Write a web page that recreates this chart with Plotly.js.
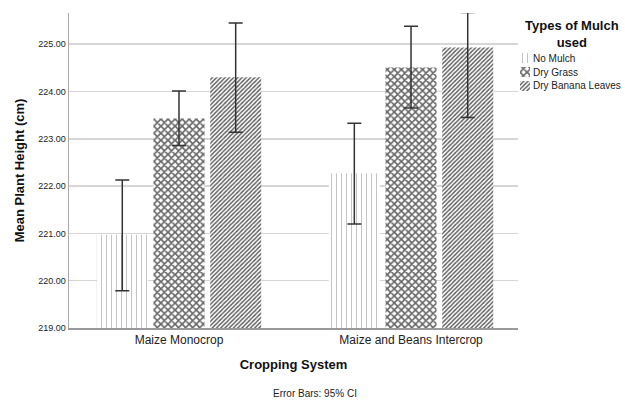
<!DOCTYPE html>
<html>
<head>
<meta charset="utf-8">
<script src="https://cdn.plot.ly/plotly-3.0.1.min.js"></script>
<style>html,body{margin:0;padding:0;background:#fff;}#chart{width:625px;height:401px;}</style>
</head>
<body>
<div id="chart"></div>
<script>
var categories = ["Maize Monocrop", "Maize and Beans Intercrop"];
var seriesNames = ["No Mulch", "Dry Grass", "Dry Banana Leaves"];
var noMulch = [220.97, 222.27];
var noMulchErrPlus = [1.16, 1.06];
var noMulchErrMinus = [1.18, 1.07];
var dryGrass = [223.43, 224.51];
var dryGrassErrPlus = [0.58, 0.87];
var dryGrassErrMinus = [0.57, 0.86];
var banana = [224.30, 224.93];
var bananaErrPlus = [1.15, 0.74];
var bananaErrMinus = [1.16, 1.48];
var yTicks = [219, 220, 221, 222, 223, 224, 225];

var patterns = [
  {shape: '|', size: 5, solidity: 0.2, fgcolor: '#c4c4c4', bgcolor: '#ffffff'},
  {shape: 'x', size: 5, solidity: 0.55, fgcolor: '#666666', bgcolor: '#ffffff'},
  {shape: '/', size: 3, solidity: 0.45, fgcolor: '#555555', bgcolor: '#ffffff'}
];

// pixel geometry helpers
var W = 625, H = 401, ML = 69, MT = 13, MB = 73, MR = 0;
var PW = W - ML - MR, PH = H - MT - MB;
function px(x) { return (x - ML) / PW; }
function py(y) { return (H - MB - y) / PH; }

var base = 219;
function mk(name, vals, ep, em, pattern) {
  return {
    type: 'bar', name: name, x: categories,
    y: vals.map(function(v){return v - base;}), base: base,
    marker: {color: '#ffffff', line: {width: 0}, pattern: pattern},
    error_y: {type: 'data', symmetric: false, array: ep, arrayminus: em,
      color: '#333333', thickness: 1.5, width: 7},
    hoverinfo: 'skip', showlegend: false
  };
}
var data = [
  mk(seriesNames[0], noMulch, noMulchErrPlus, noMulchErrMinus, patterns[0]),
  mk(seriesNames[1], dryGrass, dryGrassErrPlus, dryGrassErrMinus, patterns[1]),
  mk(seriesNames[2], banana, bananaErrPlus, bananaErrMinus, patterns[2])
];
// legend swatches
seriesNames.forEach(function(n, i) {
  data.push({
    type: 'bar', orientation: 'h', x: [1], y: [n], xaxis: 'x2', yaxis: 'y2',
    width: 0.72, marker: {color: '#ffffff', line: {width: 0}, pattern: patterns[i]},
    showlegend: false, hoverinfo: 'skip'
  });
});

var annotations = [{
  text: 'Error Bars: 95% CI', xref: 'paper', yref: 'paper',
  x: px(315), y: py(393), xanchor: 'center', yanchor: 'middle',
  showarrow: false, font: {size: 10, color: '#222'}
}, {
  text: '<b>Types of Mulch<br>used</b>', xref: 'paper', yref: 'paper',
  x: px(572), y: py(34.5), xanchor: 'center', yanchor: 'middle',
  align: 'center', showarrow: false, font: {size: 13, color: '#111'}
}];
seriesNames.forEach(function(n, i) {
  annotations.push({
    text: n, xref: 'paper', yref: 'paper', x: px(531), y: py(58 + 14 * i),
    xanchor: 'left', yanchor: 'middle', showarrow: false,
    font: {size: 10, color: '#222'}
  });
});

var layout = {
  width: W, height: H,
  margin: {l: ML, r: MR, t: MT, b: MB, autoexpand: false},
  paper_bgcolor: '#ffffff', plot_bgcolor: 'rgba(0,0,0,0)',
  font: {family: 'Liberation Sans, Arial, sans-serif', color: '#222222'},
  barmode: 'group', bargap: 0.267, bargroupgap: 0.1,
  showlegend: false,
  xaxis: {
    type: 'category', range: [-0.474, 1.461], domain: [0, px(518)],
    showline: true, linecolor: '#999999', linewidth: 1.5,
    ticks: '', tickfont: {size: 12, color: '#222'},
    title: {text: '<b>Cropping System</b>', font: {size: 13, color: '#111'}, standoff: 14},
    showgrid: false, zeroline: false
  },
  yaxis: {
    range: [219, 225.66], tickvals: yTicks, tickformat: '.2f',
    showline: true, linecolor: '#aaaaaa', linewidth: 1.5,
    showgrid: true, gridcolor: '#d6d6d6', gridwidth: 1.5,
    ticks: '', tickfont: {size: 9, color: '#222'},
    title: {text: '<b>Mean Plant Height (cm)</b>', font: {size: 13, color: '#111'}, standoff: 10},
    zeroline: false
  },
  xaxis2: {
    domain: [px(520), px(530)], range: [0, 1], anchor: 'y2',
    visible: false, fixedrange: true
  },
  yaxis2: {
    domain: [py(93), py(51)], type: 'category', categoryarray: seriesNames,
    autorange: 'reversed', anchor: 'x2', visible: false, fixedrange: true
  },
  annotations: annotations
};
Plotly.newPlot('chart', data, layout, {displayModeBar: false, staticPlot: true});
</script>
</body>
</html>
